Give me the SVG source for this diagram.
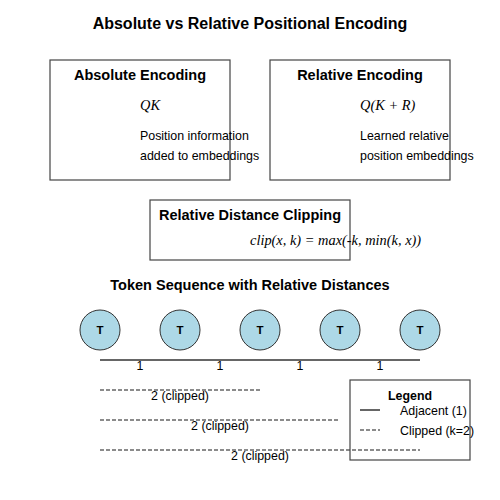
<svg xmlns="http://www.w3.org/2000/svg" width="500" height="500" viewBox="0 0 500 500">
<style>
.box{fill:#fff;stroke:#444;stroke-width:1.2}
.title{font-family:"Liberation Sans",Arial,sans-serif;font-weight:bold;text-anchor:middle}
.math{font-family:"Liberation Serif","Times New Roman",serif;font-style:italic;font-size:14.4px}
.txt{font-family:"Liberation Sans",Arial,sans-serif;font-size:12.4px;fill:#000}
.tok{fill:#add8e6;stroke:#333;stroke-width:1}
.solid{stroke:#666;stroke-width:2;fill:none}
.dash{stroke:#666;stroke-width:1.5;stroke-dasharray:4,2;fill:none}
</style>
<rect width="500" height="500" fill="#fff"/>
<text class="title" x="250" y="29" font-size="16">Absolute vs Relative Positional Encoding</text>
<g id="absolute">
<rect class="box" x="50" y="60" width="180" height="120"/>
<text class="title" x="140" y="80" font-size="14.5">Absolute Encoding</text>
<text class="math" x="140" y="110">QK</text>
<text class="txt" x="140" y="140">Position information</text>
<text class="txt" x="140" y="160">added to embeddings</text>
</g>
<g id="relative">
<rect class="box" x="270" y="60" width="180" height="120"/>
<text class="title" x="360" y="80" font-size="14.5">Relative Encoding</text>
<text class="math" x="360" y="110">Q(K + R)</text>
<text class="txt" x="360" y="140">Learned relative</text>
<text class="txt" x="360" y="160">position embeddings</text>
</g>
<g id="clipping">
<rect class="box" x="150" y="200" width="200" height="60"/>
<text class="title" x="250" y="220" font-size="14.5">Relative Distance Clipping</text>
<text class="math" x="250" y="245">clip(x, k) = max(-k, min(k, x))</text>
</g>
<text class="title" x="250" y="290" font-size="14.5">Token Sequence with Relative Distances</text>
<g id="tokens">
<g id="t1"><circle class="tok" cx="100" cy="330" r="20"/><text class="title" x="100" y="334" font-size="11.5">T</text></g>
<g id="t2"><circle class="tok" cx="180" cy="330" r="20"/><text class="title" x="180" y="334" font-size="11.5">T</text></g>
<g id="t3"><circle class="tok" cx="260" cy="330" r="20"/><text class="title" x="260" y="334" font-size="11.5">T</text></g>
<g id="t4"><circle class="tok" cx="340" cy="330" r="20"/><text class="title" x="340" y="334" font-size="11.5">T</text></g>
<g id="t5"><circle class="tok" cx="420" cy="330" r="20"/><text class="title" x="420" y="334" font-size="11.5">T</text></g>
</g>
<g id="connectors">
<line class="solid" x1="100" y1="360" x2="420" y2="360"/>
<line class="dash" x1="100" y1="390" x2="260" y2="390"/>
<line class="dash" x1="100" y1="420" x2="340" y2="420"/>
<line class="dash" x1="100" y1="450" x2="420" y2="450"/>
</g>
<g id="labels" class="txt" text-anchor="middle">
<text x="140" y="370">1</text>
<text x="220" y="370">1</text>
<text x="300" y="370">1</text>
<text x="380" y="370">1</text>
<text x="180" y="400">2 (clipped)</text>
<text x="220" y="430">2 (clipped)</text>
<text x="260" y="460">2 (clipped)</text>
</g>
<g id="legend">
<rect x="350" y="380" width="120" height="80" fill="none" stroke="#444" stroke-width="1.2"/>
<text class="title" x="410" y="400" font-size="12.4">Legend</text>
<line class="solid" x1="360" y1="410" x2="380" y2="410" stroke-width="1.2"/>
<text class="txt" x="400" y="415">Adjacent (1)</text>
<line class="dash" x1="360" y1="430" x2="380" y2="430" stroke-width="1.2"/>
<text class="txt" x="400" y="435">Clipped (k=2)</text>
</g>
</svg>
